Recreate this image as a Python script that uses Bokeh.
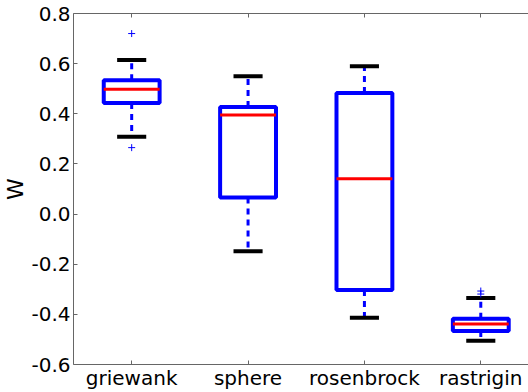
from bokeh.plotting import figure
from bokeh.models import FixedTicker, PrintfTickFormatter, Range1d, ColumnDataSource, LinearAxis
from bokeh.embed import file_html
from bokeh.resources import INLINE

categories = ["griewank", "sphere", "rosenbrock", "rastrigin"]
positions = [1, 2, 3, 4]
q1 = [0.443, 0.066, -0.303, -0.466]
median = [0.498, 0.395, 0.141, -0.438]
q3 = [0.534, 0.427, 0.483, -0.418]
whisker_low = [0.308, -0.148, -0.414, -0.505]
whisker_high = [0.615, 0.550, 0.590, -0.335]
outlier_pos = [1, 1, 4, 4]
outlier_val = [0.720, 0.265, -0.307, -0.319]
y_ticks = [-0.6, -0.4, -0.2, 0.0, 0.2, 0.4, 0.6, 0.8]
y_label = "W"

W, H = 528, 392
p = figure(width=W, height=H, output_backend="svg", toolbar_location=None,
           x_range=Range1d(0.5, 4.41), y_range=Range1d(-0.6, 0.8),
           min_border_left=72, min_border_right=0, min_border_top=13, min_border_bottom=26)
p.grid.visible = False
p.outline_line_color = None
p.background_fill_color = "white"
p.border_fill_color = "white"

half_box = 0.24
half_cap = 0.125
src = ColumnDataSource(dict(x=positions, q1=q1, med=median, q3=q3, lo=whisker_low, hi=whisker_high,
                            left=[x - half_box for x in positions], right=[x + half_box for x in positions],
                            cl=[x - half_cap for x in positions], cr=[x + half_cap for x in positions]))

# whiskers
p.segment(x0="x", y0="q3", x1="x", y1="hi", source=src, line_color="#0000ff", line_width=3, line_dash="6 5")
p.segment(x0="x", y0="q1", x1="x", y1="lo", source=src, line_color="#0000ff", line_width=3, line_dash="6 5")
# caps
p.segment(x0="cl", y0="hi", x1="cr", y1="hi", source=src, line_color="black", line_width=4)
p.segment(x0="cl", y0="lo", x1="cr", y1="lo", source=src, line_color="black", line_width=4)
# boxes
p.quad(left="left", right="right", bottom="q1", top="q3", source=src, fill_color=None,
       line_color="#0000ff", line_width=4)
# medians
p.segment(x0="left", y0="med", x1="right", y1="med", source=src, line_color="#ff0000", line_width=3)
# outliers
p.scatter(x=outlier_pos, y=outlier_val, marker="cross", size=7, line_color="#0000ff", line_width=1)

bottom = p.below[0]
left = p.left[0]
left.ticker = FixedTicker(ticks=y_ticks)
left.formatter = PrintfTickFormatter(format="%.1f")
bottom.ticker = FixedTicker(ticks=positions)
bottom.major_label_overrides = {pos: c for pos, c in zip(positions, categories)}

top = LinearAxis(ticker=FixedTicker(ticks=positions), major_label_text_font_size="0px",
                 major_label_text_color=None, major_label_standoff=0)
top.major_label_overrides = {pos: "" for pos in positions}
p.add_layout(top, "above")

for ax in (bottom, left, top):
    ax.major_tick_in = 4
    ax.major_tick_out = 0
    ax.minor_tick_line_color = None
    ax.axis_line_color = "#666666"
    ax.major_tick_line_color = "#666666"
for ax in (bottom, left):
    ax.major_label_text_font = "DejaVu Sans"
    ax.major_label_text_font_size = "20px"
    ax.major_label_text_color = "black"
left.major_label_standoff = 3
bottom.major_label_standoff = 1

left.axis_label = y_label
left.axis_label_text_font = "DejaVu Sans"
left.axis_label_text_font_size = "22px"
left.axis_label_text_font_style = "normal"
left.axis_label_text_color = "black"
left.axis_label_standoff = 0

open("out.html", "w").write(file_html(p, INLINE))
